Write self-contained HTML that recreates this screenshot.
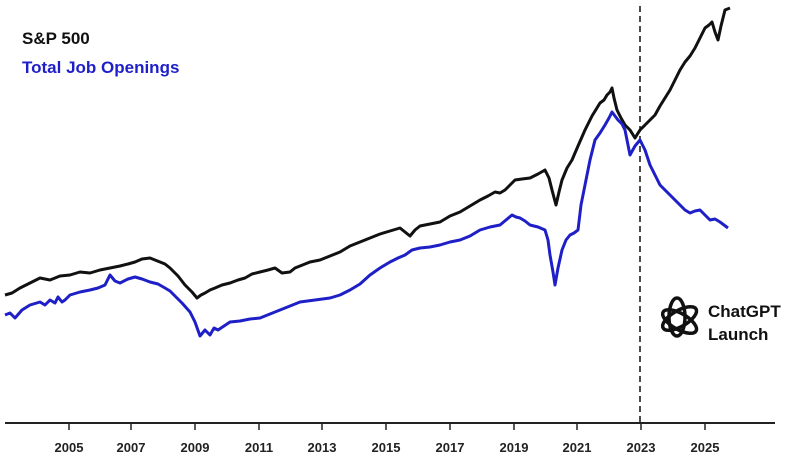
<!DOCTYPE html>
<html><head><style>
body{margin:0;background:#fff;}
svg{display:block;font-family:"Liberation Sans",sans-serif;}
</style></head><body>
<svg width="800" height="458" viewBox="0 0 800 458">
<rect width="800" height="458" fill="#fff"/>
<text x="22" y="44" font-size="17" font-weight="bold" fill="#111">S&amp;P 500</text>
<text x="22" y="73" font-size="17" font-weight="bold" fill="#1f1fc8">Total Job Openings</text>
<line x1="640" y1="6" x2="640" y2="423" stroke="#111" stroke-width="1.5" stroke-dasharray="6,4"/>
<polyline fill="none" stroke="#111" stroke-width="3" stroke-linejoin="round" points="5,295 12,293 20,288 28,284 40,278 50,280 60,276 70,275 80,272 90,273 100,270 110,268 120,266 128,264 135,262 142,259 150,258 155,260 160,262 165,264 170,268 178,276 185,285 192,292 197,298 201,295 205,293 210,290 215,288 222,285 230,283 238,280 245,278 252,274 260,272 268,270 275,268 282,273 290,272 295,268 300,266 310,262 320,260 330,256 340,252 350,246 360,242 370,238 380,234 390,231 400,228 405,232 410,236 415,230 420,226 430,224 440,222 450,216 460,212 470,206 480,200 488,196 495,192 500,193 505,190 510,185 515,180 522,179 530,178 538,174 545,170 549,178 552,190 556,205 559,192 562,180 567,168 572,160 578,146 585,130 592,116 600,103 604,100 607,95 610,92 612,88 614,98 617,110 621,118 625,125 630,130 635,138 640,130 645,125 650,120 655,115 660,106 665,98 670,90 675,80 680,70 685,62 690,56 695,48 700,38 705,28 709,25 712,22 715,32 718,40 721,26 725,10 730,8"/>
<polyline fill="none" stroke="#1f1fc8" stroke-width="3" stroke-linejoin="round" points="5,315 10,313 15,318 22,310 30,305 40,302 45,305 50,300 55,303 58,297 62,302 65,300 70,295 80,292 90,290 98,288 105,285 110,275 115,281 120,283 128,279 135,277 142,279 150,282 158,284 165,288 170,291 175,296 182,303 190,312 195,322 200,336 205,330 210,335 214,328 218,330 230,322 240,321 250,319 260,318 270,314 280,310 290,306 300,302 315,300 330,298 340,295 350,290 360,284 370,275 380,268 390,262 398,258 405,255 412,250 420,248 430,247 440,245 450,242 460,240 470,236 480,230 490,227 500,225 506,220 512,215 516,217 520,218 525,221 530,225 538,227 545,230 548,240 550,255 553,272 555,285 558,268 562,250 566,240 570,235 574,233 578,230 581,205 585,185 590,160 595,140 600,133 605,125 609,118 612,112 615,116 618,120 622,124 625,130 628,145 630,155 635,146 640,140 645,150 650,165 655,175 660,185 665,190 670,195 675,200 680,205 685,210 690,213 695,211 700,210 705,215 710,220 715,219 720,222 724,225 728,228"/>
<line x1="5" y1="423" x2="775" y2="423" stroke="#222" stroke-width="2"/>
<g stroke="#222" stroke-width="1.5">
<line x1="69" y1="423" x2="69" y2="430"/><line x1="131" y1="423" x2="131" y2="430"/><line x1="195" y1="423" x2="195" y2="430"/><line x1="259" y1="423" x2="259" y2="430"/><line x1="322" y1="423" x2="322" y2="430"/><line x1="386" y1="423" x2="386" y2="430"/><line x1="450" y1="423" x2="450" y2="430"/><line x1="514" y1="423" x2="514" y2="430"/><line x1="577" y1="423" x2="577" y2="430"/><line x1="641" y1="423" x2="641" y2="430"/><line x1="705" y1="423" x2="705" y2="430"/>
</g>
<g font-size="13" font-weight="bold" fill="#222" text-anchor="middle">
<text x="69" y="452">2005</text><text x="131" y="452">2007</text><text x="195" y="452">2009</text><text x="259" y="452">2011</text><text x="322" y="452">2013</text><text x="386" y="452">2015</text><text x="450" y="452">2017</text><text x="514" y="452">2019</text><text x="577" y="452">2021</text><text x="641" y="452">2023</text><text x="705" y="452">2025</text>
</g>
<g transform="translate(677,320)" fill="none" stroke="#111" stroke-width="3.5">
<ellipse rx="8" ry="19" transform="rotate(0) translate(0,-3)"/>
<ellipse rx="8" ry="19" transform="rotate(60) translate(0,-3)"/>
<ellipse rx="8" ry="19" transform="rotate(120) translate(0,-3)"/>
</g>
<text x="708" y="317" font-size="17" font-weight="bold" fill="#111">ChatGPT</text>
<text x="708" y="340" font-size="17" font-weight="bold" fill="#111">Launch</text>
</svg>
</body></html>
